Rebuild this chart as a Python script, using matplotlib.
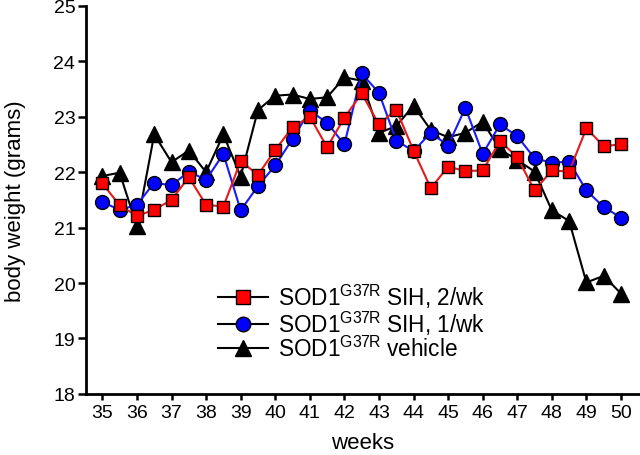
import matplotlib
matplotlib.use("Agg")
import matplotlib.pyplot as plt
import numpy as np

plt.rcParams['font.family'] = ['Liberation Sans', 'DejaVu Sans']
plt.rcParams['mathtext.fontset'] = 'custom'
plt.rcParams['mathtext.rm'] = 'Liberation Sans'

weeks = [35, 35.5, 36, 36.5, 37, 37.5, 38, 38.5, 39, 39.5, 40, 40.5, 41, 41.5, 42, 42.5,
         43, 43.5, 44, 44.5, 45, 45.5, 46, 46.5, 47, 47.5, 48, 48.5, 49, 49.5, 50]

sih_2wk = [21.80, 21.40, 21.21, 21.32, 21.50, 21.91, 21.41, 21.38, 22.20, 21.95, 22.40,
           22.81, 23.00, 22.45, 22.98, 23.42, 22.86, 23.13, 22.39, 21.71, 22.10, 22.02,
           22.03, 22.56, 22.27, 21.67, 22.03, 22.01, 22.79, 22.47, 22.50]

sih_1wk = [21.46, 21.32, 21.41, 21.81, 21.76, 22.01, 21.86, 22.33, 21.31, 21.75, 22.12,
           22.60, 23.11, 22.89, 22.50, 23.78, 23.43, 22.57, 22.38, 22.71, 22.48, 23.16,
           22.33, 22.86, 22.65, 22.25, 22.17, 22.19, 21.67, 21.37, 21.18]

vehicle = [21.93, 21.99, 21.02, 22.68, 22.18, 22.39, 22.00, 22.68, 21.92, 23.12, 23.38,
           23.40, 23.32, 23.35, 23.71, 23.65, 22.71, 22.83, 23.20, 22.76, 22.63, 22.71,
           22.91, 22.41, 22.22, 22.01, 21.31, 21.12, 20.01, 20.13, 19.81]

labels = [r'SOD1$^{\mathregular{G37R}}$ SIH, 2/wk',
          r'SOD1$^{\mathregular{G37R}}$ SIH, 1/wk',
          r'SOD1$^{\mathregular{G37R}}$ vehicle']

xticks = list(range(35, 51))
yticks = list(range(18, 26))

fig = plt.figure(figsize=(6.4, 4.56), dpi=100)
ax = fig.add_axes([0.134, 0.134, 0.866, 0.851])

ax.plot(weeks, vehicle, color='black', lw=1.5, marker='^', ms=11,
        mfc='black', mec='black', mew=1.0, zorder=3, clip_on=False)
ax.plot(weeks, sih_1wk, color='#1a1aff', lw=1.5, marker='o', ms=10,
        mfc='#0000ff', mec='black', mew=1.0, zorder=4, clip_on=False)
ax.plot(weeks, sih_2wk, color='#e41a1c', lw=1.5, marker='s', ms=9.3,
        mfc='#ff0000', mec='black', mew=1.0, zorder=5, clip_on=False)

leg_lines = []
for mfc, m, ms in [('#ff0000', 's', 9.5), ('#0000ff', 'o', 10.5), ('black', '^', 12)]:
    h, = ax.plot([], [], color='black', lw=1.5, marker=m, ms=ms, mfc=mfc, mec='black', mew=1.0)
    leg_lines.append(h)
leg = fig.legend(leg_lines, labels, loc='center left',
                 bbox_to_anchor=(218 / 640, 1 - 322 / 456), bbox_transform=fig.transFigure,
                 frameon=False, fontsize=16.3, handlelength=2.2, handletextpad=0.45,
                 labelspacing=-0.06, borderaxespad=0, borderpad=0)

ax.set_xlim(34.52, 50.55)
ax.set_ylim(18, 25)
ax.set_xticks(xticks)
ax.set_yticks(yticks)
ax.tick_params(axis='both', labelsize=14, width=1.8, direction='out')
ax.tick_params(axis='x', length=4.5, pad=3)
ax.tick_params(axis='y', length=6, pad=1.5)
for s in ['top', 'right']:
    ax.spines[s].set_visible(False)
for s in ['left', 'bottom']:
    ax.spines[s].set_linewidth(2)
ax.set_xlabel('weeks', fontsize=16, labelpad=8)
ax.set_ylabel('body weight (grams)', fontsize=16, labelpad=20)

fig.savefig('out.png', dpi=100)
